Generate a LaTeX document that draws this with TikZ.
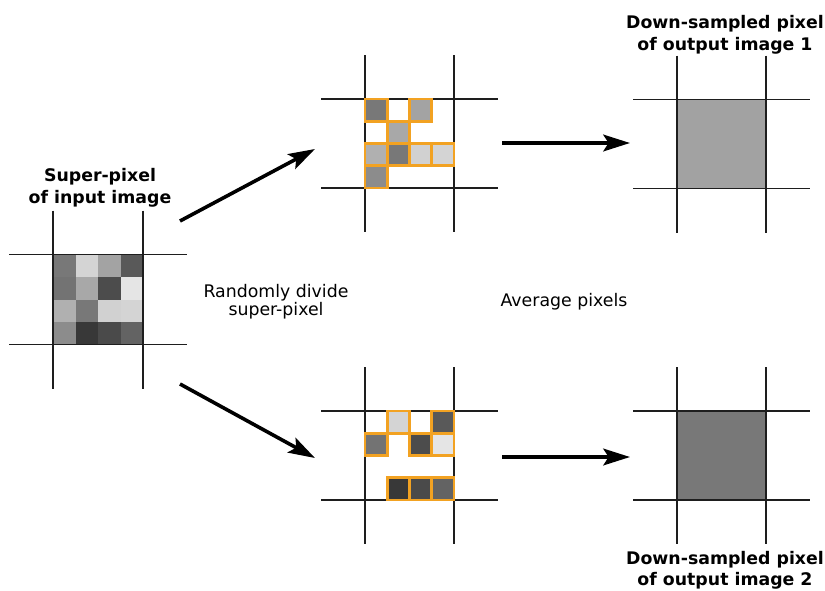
\documentclass[tikz,border=0pt]{standalone}
\usepackage{fontspec}
\setmainfont{DejaVu Sans}
\usetikzlibrary{arrows.meta,calc}
\definecolor{edgeorange}{RGB}{242,162,34}
\definecolor{lineink}{RGB}{30,30,30}
\tikzset{
  gridline/.style={draw=lineink,line width=1.1pt},
  square/.style={inner sep=0pt,outer sep=0pt,minimum size=#1},
  bigarrow/.style={line width=2.7pt,-{Stealth[length=20pt,width=12.5pt,inset=4pt]}},
  caption/.style={font=\bfseries\fontsize{13}{16}\selectfont,align=center,inner sep=0pt},
  note/.style={font=\fontsize{13}{13.5}\selectfont,align=center,inner sep=0pt},
  pick/.style={draw=edgeorange,line width=2pt},
}
% cross-hair lines around a square node
\newcommand\crosslines[1]{%
  \draw[gridline] ($(#1.north west)+(-44,0)$) -- ($(#1.north east)+(44,0)$);
  \draw[gridline] ($(#1.south west)+(-44,0)$) -- ($(#1.south east)+(44,0)$);
  \draw[gridline] ($(#1.north west)+(0,-44)$) -- ($(#1.south west)+(0,44)$);
  \draw[gridline] ($(#1.north east)+(0,-44)$) -- ($(#1.south east)+(0,44)$);
}
\begin{document}
\begin{tikzpicture}[x=0.75pt,y=-0.75pt]
\useasboundingbox (0,0) rectangle (825,590);

% square regions
\node[square=67.5pt] (inp) at (98,299.5) {};
\node[square=66.75pt] (half1) at (409.5,143.5) {};
\node[square=66.75pt] (half2) at (409.5,455.5) {};
\node[square=66.75pt,fill={rgb,255:red,162;green,162;blue,162}] (out1) at (721.5,144) {};
\node[square=66.75pt,fill={rgb,255:red,120;green,120;blue,120}] (out2) at (721.5,455.5) {};

% input super-pixel: 4x4 cells (col/row/gray)
\foreach \c/\r/\g in {0/0/.47,1/0/.83,2/0/.64,3/0/.35,
                      0/1/.45,1/1/.66,2/1/.30,3/1/.90,
                      0/2/.69,1/2/.47,2/2/.82,3/2/.83,
                      0/3/.55,1/3/.22,2/3/.29,3/3/.39}{
  \definecolor{cellc}{gray}{\g}
  \fill[cellc] ($(inp.north west)+(\c*22.5,\r*22.5)$) rectangle +(22.5,22.5);
}

\crosslines{inp}
\crosslines{half1}
\crosslines{half2}
\crosslines{out1}
\crosslines{out2}

% first random half
\foreach \c/\r/\g in {0/0/.47,2/0/.64,1/1/.66,0/2/.69,1/2/.47,2/2/.82,3/2/.83,0/3/.55}{
  \definecolor{cellc}{gray}{\g}
  \fill[cellc,pick] ($(half1.north west)+(\c*22.25,\r*22.25)$) rectangle +(22.25,22.25);
}
% second random half
\foreach \c/\r/\g in {1/0/.83,3/0/.35,0/1/.45,2/1/.30,3/1/.90,1/3/.22,2/3/.29,3/3/.39}{
  \definecolor{cellc}{gray}{\g}
  \fill[cellc,pick] ($(half2.north west)+(\c*22.25,\r*22.25)$) rectangle +(22.25,22.25);
}

% labels (base anchor sits on the last line)
\node[caption,anchor=base] (lin) at (100,203) {Super-pixel\\of input image};
\node[caption,anchor=base] (lout1) at (725,50) {Down-sampled pixel\\of output image 1};
\node[caption,anchor=base] (lout2) at (725,585.5) {Down-sampled pixel\\of output image 2};
\node[note,anchor=base] (ldiv) at (276,315) {Randomly divide\\super-pixel};
\node[note,anchor=base] (lavg) at (564,306) {Average pixels};

% arrows
\coordinate (s1) at (180,221); \coordinate (e1) at (315,149);
\coordinate (s2) at (180,384); \coordinate (e2) at (315,458);
\coordinate (s3) at (502,143); \coordinate (e3) at (630,143);
\coordinate (s4) at (502,457); \coordinate (e4) at (630,457);
\draw[bigarrow] (s1) -- (e1);
\draw[bigarrow] (s2) -- (e2);
\draw[bigarrow] (s3) -- (e3);
\draw[bigarrow] (s4) -- (e4);
\end{tikzpicture}
\end{document}
